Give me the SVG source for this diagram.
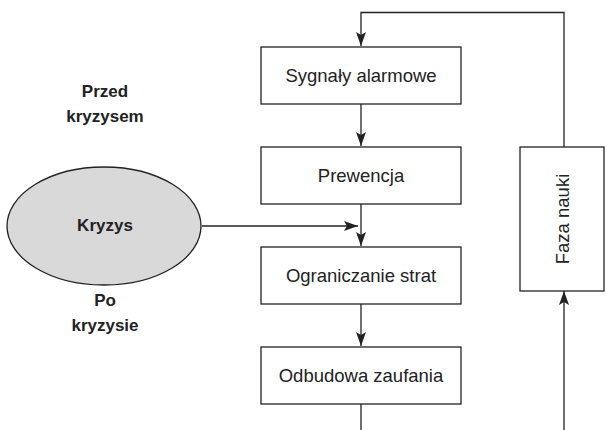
<svg xmlns="http://www.w3.org/2000/svg" width="606" height="430" viewBox="0 0 606 430">
<style>
.box{fill:#fff;stroke:#222;stroke-width:1.3}
.t{font-family:"Liberation Sans",Arial,sans-serif;font-size:18.5px;fill:#222;text-anchor:middle}
.b{font-family:"Liberation Sans",Arial,sans-serif;font-size:17px;font-weight:bold;fill:#222;text-anchor:middle}
.c{fill:none;stroke:#222;stroke-width:1.3}
</style>
<defs>
<marker id="ah" viewBox="0 0 14 10" refX="14" refY="5" markerWidth="14" markerHeight="10" markerUnits="userSpaceOnUse" orient="auto">
<path d="M0,0 L14,5 L0,10 L3,5 Z" fill="#222"/>
</marker>
</defs>
<g id="connectors">
<path class="c" d="M564,147 V12.5 H361 V46" marker-end="url(#ah)"/>
<path class="c" d="M361,104 V146" marker-end="url(#ah)"/>
<path class="c" d="M361,204 V246" marker-end="url(#ah)"/>
<path class="c" d="M202,226 H358" marker-end="url(#ah)"/>
<path class="c" d="M361,304 V346" marker-end="url(#ah)"/>
<path class="c" d="M361,404 V430"/>
<path class="c" d="M564,430 V291" marker-end="url(#ah)"/>
</g>
<g id="label-przed">
<text class="b" x="105" y="97">Przed</text>
<text class="b" x="105" y="122">kryzysem</text>
</g>
<g id="label-po">
<text class="b" x="105" y="306">Po</text>
<text class="b" x="105" y="331">kryzysie</text>
</g>
<g id="kryzys">
<ellipse cx="104" cy="226" rx="97" ry="59" fill="#d9d9d9" stroke="#222" stroke-width="1.3"/>
<text class="b" x="105" y="231">Kryzys</text>
</g>
<g id="sygnaly">
<rect class="box" x="261" y="47" width="200" height="57"/>
<text class="t" x="361" y="82">Sygnały alarmowe</text>
</g>
<g id="prewencja">
<rect class="box" x="261" y="147" width="200" height="57"/>
<text class="t" x="361" y="182">Prewencja</text>
</g>
<g id="ograniczanie">
<rect class="box" x="261" y="247" width="200" height="57"/>
<text class="t" x="361" y="282">Ograniczanie strat</text>
</g>
<g id="odbudowa">
<rect class="box" x="261" y="347" width="200" height="57"/>
<text class="t" x="361" y="382">Odbudowa zaufania</text>
</g>
<g id="faza">
<rect class="box" x="520" y="147" width="84" height="144"/>
<text class="t" transform="translate(569,219) rotate(-90)" x="0" y="0">Faza nauki</text>
</g>
</svg>
